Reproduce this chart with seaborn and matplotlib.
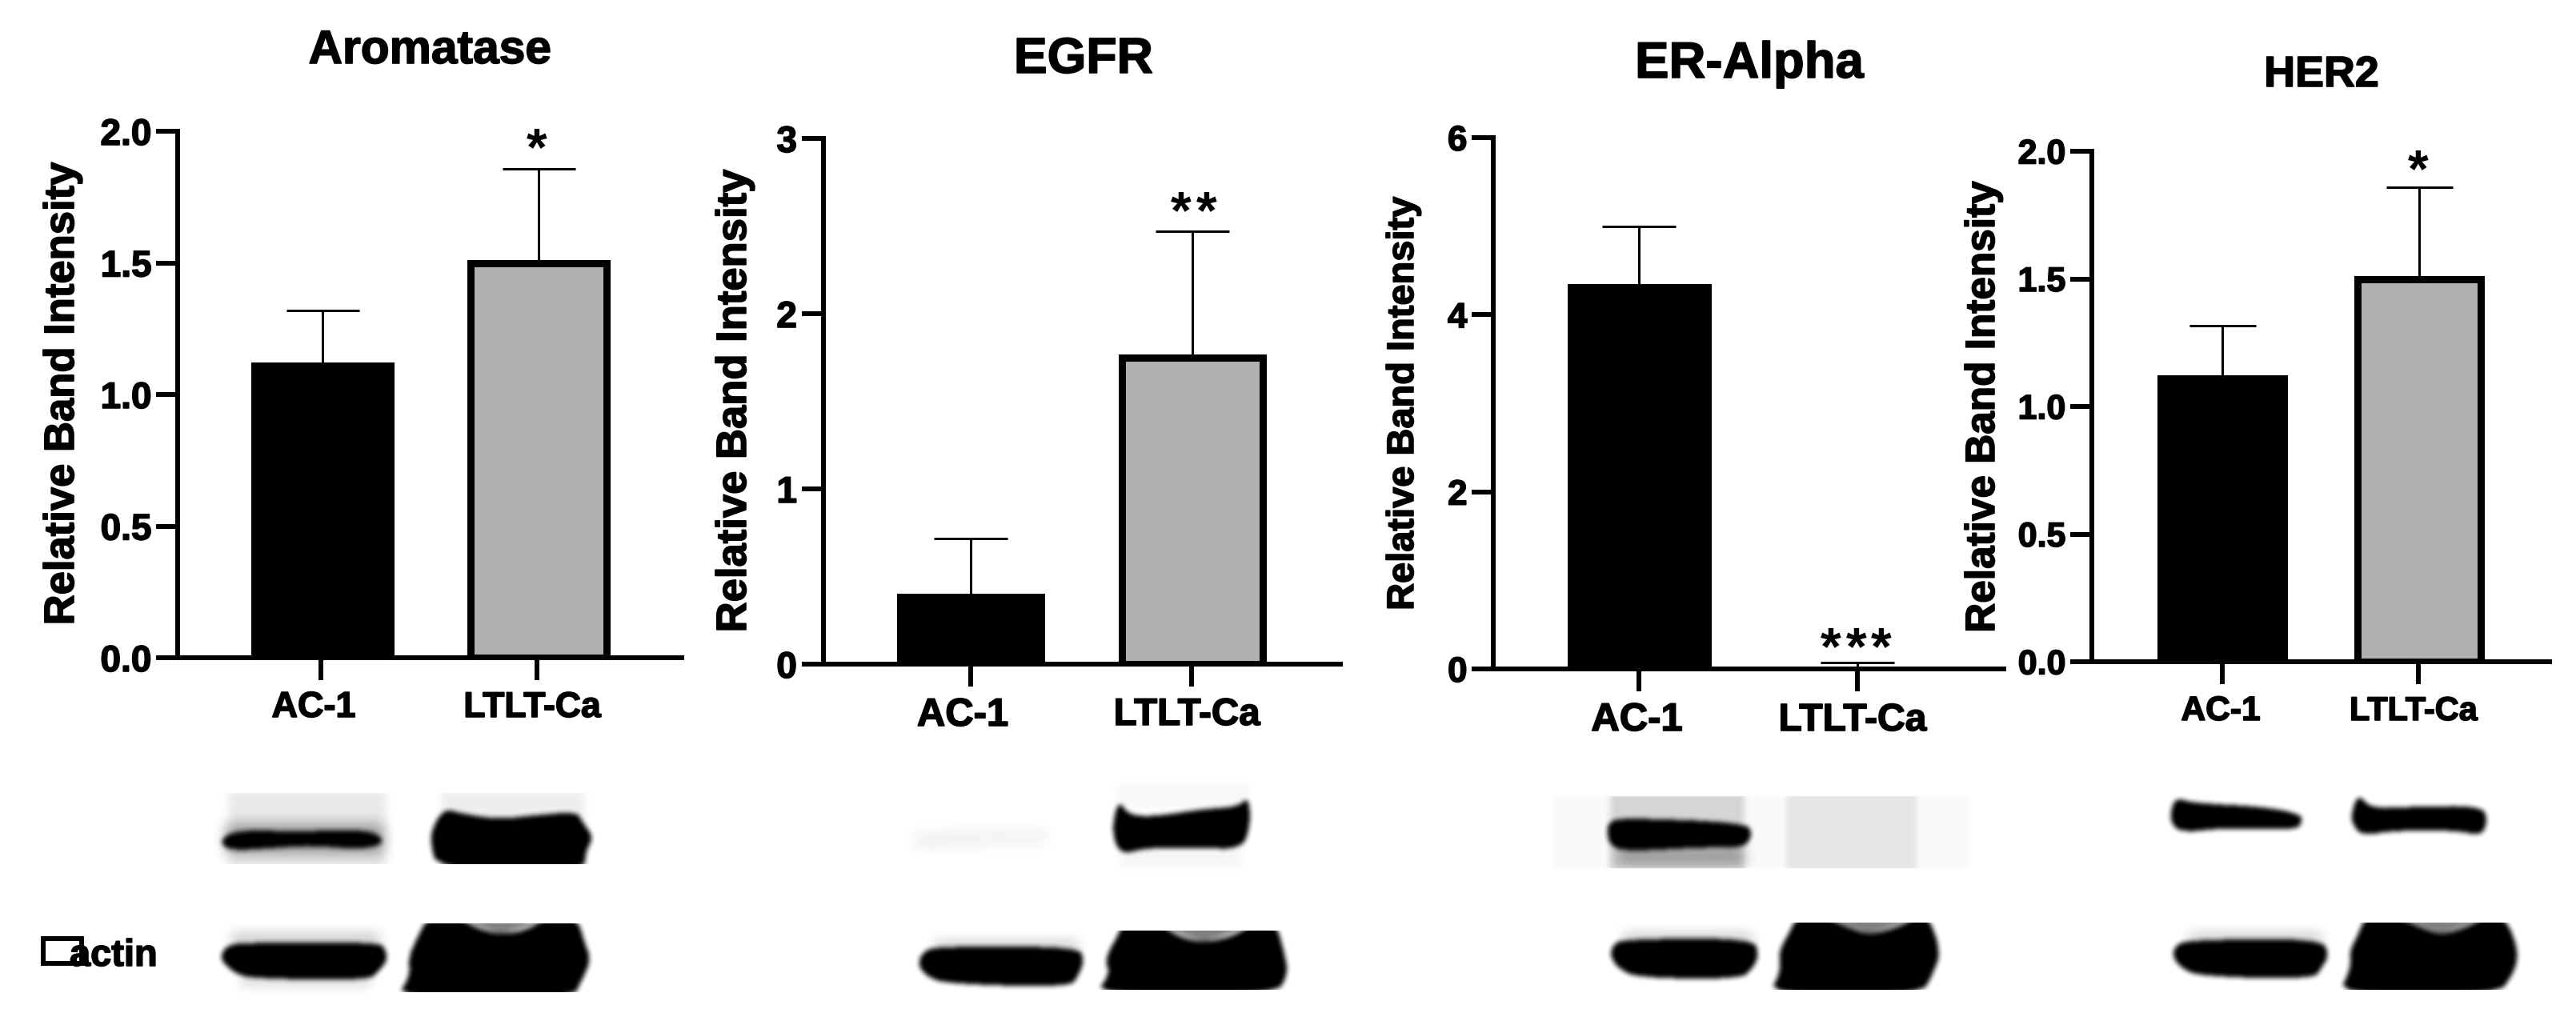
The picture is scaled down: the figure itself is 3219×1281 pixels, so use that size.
import numpy as np
import pandas as pd
import seaborn as sns
import matplotlib
matplotlib.use("Agg")
import matplotlib.pyplot as plt
import matplotlib.patheffects as pe
from matplotlib.path import Path
from matplotlib.patches import Rectangle
from matplotlib.transforms import ScaledTranslation

W, H, DPI = 3219, 1281, 100
PX = 72 / DPI

# ---------- data ----------
groups = ["AC-1", "LTLT-Ca"]
aromatase_mean = [1.11, 1.50]
aromatase_upper = [1.32, 1.857]
egfr_mean = [0.385, 1.75]
egfr_upper = [0.717, 2.47]
er_alpha_mean = [4.31, 0.01]
er_alpha_upper = [5.0, 0.07]
her2_mean = [1.11, 1.50]
her2_upper = [1.318, 1.859]
aromatase_ticks = ["0.0", "0.5", "1.0", "1.5", "2.0"]
egfr_ticks = ["0", "1", "2", "3"]
er_alpha_ticks = ["0", "2", "4", "6"]
her2_ticks = ["0.0", "0.5", "1.0", "1.5", "2.0"]
titles = ["Aromatase", "EGFR", "ER-Alpha", "HER2"]
ylabel_text = "Relative Band Intensity"
bar_colors = ["#000000", "#B0B0B0"]

# ---------- layout (pixels of the final image) ----------
panels = [
    dict(title=titles[0], mean=aromatase_mean, upper=aromatase_upper, ticks=aromatase_ticks,
         left=222, right=852, y0=822, ytop=164, t1=401, t2=671, b1=402.5, b2=672.5, barw=170, cap=91,
         tfs=58.7, tx=537, tb=79, yfs=52.6, ybx=92, ycy=492, tickfs=46,
         lab=[(392, 45), (665, 44.5)], labpad=14, star_x=[671], star_y=176),
    dict(title=titles[1], mean=egfr_mean, upper=egfr_upper, ticks=egfr_ticks,
         left=1028.5, right=1675, y0=830, ytop=173, t1=1213, t2=1489, b1=1212.5, b2=1490, barw=176, cap=93,
         tfs=62.6, tx=1354, tb=91, yfs=52.6, ybx=932, ycy=501, tickfs=46,
         lab=[(1203, 49), (1483, 47.5)], labpad=14, star_x=[1476, 1508], star_y=255),
    dict(title=titles[2], mean=er_alpha_mean, upper=er_alpha_upper, ticks=er_alpha_ticks,
         left=1866, right=2504, y0=836, ytop=172, t1=2048, t2=2321, b1=2048, b2=2321, barw=171, cap=93,
         tfs=63.5, tx=2186, tb=97, yfs=47, ybx=1766, ycy=504, tickfs=44,
         lab=[(2045.5, 49), (2315, 48)], labpad=14, star_x=[2288, 2320, 2351], star_y=800),
    dict(title=titles[3], mean=her2_mean, upper=her2_upper, ticks=her2_ticks,
         left=2614, right=3186, y0=827, ytop=189, t1=2777, t2=3022, b1=2776.5, b2=3023, barw=154, cap=83,
         tfs=53.8, tx=2901, tb=108, yfs=51.3, ybx=2492, ycy=509, tickfs=43,
         lab=[(2775, 42.5), (3016, 41.5)], labpad=14, star_x=[3022], star_y=203),
]

# ---------- western blot sketches: (group, polygon, darkness, blur px, clip y range) ----------
# polygons are in crop-view units, converted below
L, R = "L", "R"
blots = [
    # Aromatase, top row
    (L, [(272,170),(458,170),(458,455),(272,455)], .09, 6, (180,445)),
    (L, [(268,295),(455,295),(455,405),(268,405)], .35, 9, (180,445)),
    (L, [(262,360),(272,330),(300,318),(350,325),(400,318),(440,322),(455,350),(450,378),(420,388),(370,375),(320,385),(285,392),(268,385)], 1, 3, None),
    (L, [(525,170),(695,170),(695,300),(525,300)], .07, 6, (180,445)),
    (L, [(530,240),(545,255),(590,278),(640,262),(685,250),(692,290),(705,345),(695,400),(695,470),(520,470),(510,350),(518,280)], 1, 3, (180,445)),
    # Aromatase, actin
    (L, [(275,700),(450,700),(450,750),(275,750)], .2, 8, None),
    (L, [(285,860),(440,860),(440,895),(285,895)], .15, 7, None),
    (L, [(270,745),(290,735),(450,733),(458,760),(460,800),(450,840),(438,875),(300,868),(280,850),(265,810),(262,780)], 1, 3, None),
    (L, [(508,640),(545,640),(565,682),(595,705),(625,690),(650,640),(685,640),(695,740),(702,800),(690,880),(680,940),(470,940),(487,860),(485,790),(495,720)], 1, 3, (665,918)),
    (L, [(540,640),(655,640),(595,715)], .5, 5, (665,918)),
    # EGFR, top row
    (L, [(1085,330),(1245,320),(1245,360),(1085,385)], .07, 10, None),
    (L, [(1325,145),(1485,145),(1480,240),(1330,240)], .03, 6, None),
    (L, [(1330,390),(1475,390),(1475,450),(1330,450)], .05, 8, None),
    (L, [(1328,205),(1340,262),(1370,268),(1430,240),(1470,232),(1483,195),(1485,300),(1475,390),(1420,383),(1360,385),(1330,410),(1320,320)], 1, 3, None),
    # EGFR, actin
    (L, [(1110,730),(1280,730),(1280,770),(1110,770)], .2, 8, None),
    (L, [(1105,755),(1135,750),(1280,750),(1288,800),(1280,860),(1270,900),(1125,888),(1100,860),(1090,815),(1095,775)], 1, 3, None),
    (L, [(1335,660),(1375,660),(1400,715),(1430,735),(1465,712),(1490,660),(1515,660),(1525,770),(1530,850),(1515,930),(1300,930),(1318,850),(1312,800),(1325,720)], 1, 3, (690,910)),
    (L, [(1368,660),(1495,660),(1430,745)], .5, 5, (690,910)),
    # ER-Alpha, top row
    (R, [(290,192),(810,192),(810,460),(290,460)], .02, 2, None),
    (R, [(362,180),(530,180),(530,470),(362,470)], .15, 4, (192,460)),
    (R, [(582,180),(745,180),(745,470),(582,470)], .08, 3, (192,460)),
    (R, [(370,385),(530,385),(530,445),(370,445)], .3, 9, (192,460)),
    (R, [(360,290),(375,272),(530,290),(540,330),(530,385),(480,382),(380,398),(362,375),(358,330)], 1, 3, None),
    # HER2, top row
    (R, [(1062,250),(1068,198),(1090,218),(1180,232),(1225,260),(1226,290),(1218,318),(1130,310),(1075,328),(1062,290)], 1, 3, None),
    (R, [(1288,250),(1296,185),(1312,238),(1360,232),(1450,228),(1458,280),(1450,340),(1420,320),(1340,320),(1300,340),(1288,290)], 1, 3, None),
    # ER-Alpha, actin
    (R, [(378,700),(540,700),(540,745),(378,745)], .2, 8, None),
    (R, [(365,745),(378,722),(540,718),(548,780),(540,830),(525,870),(395,865),(372,830),(362,785)], 1, 3, None),
    (R, [(595,640),(630,640),(660,680),(685,705),(720,680),(745,640),(760,640),(775,770),(765,850),(750,930),(560,930),(575,840),(572,770),(585,700)], 1, 3, (660,910)),
    (R, [(622,640),(750,640),(685,715)], .5, 5, (660,910)),
    # HER2, actin
    (R, [(1085,700),(1250,700),(1250,745),(1085,745)], .2, 8, None),
    (R, [(1068,745),(1085,725),(1250,720),(1260,780),(1250,830),(1240,870),(1100,860),(1075,830),(1064,785)], 1, 3, None),
    (R, [(1305,640),(1345,640),(1375,680),(1400,705),(1430,680),(1455,640),(1480,640),(1497,770),(1490,850),(1470,930),(1270,930),(1287,830),(1285,770),(1295,710)], 1, 3, (660,910)),
    (R, [(1338,640),(1460,640),(1400,715)], .5, 5, (660,910)),
]


def to_px(group, x, y):
    if group == L:
        return x * 1650 / 1568, 930 + y * 0.3375
    return 1650 + x * 1569 / 1568, 930 + y * 0.3375


def chaikin(pts, n=2):
    p = np.asarray(pts, float)
    if len(p) <= 4:
        return p
    for _ in range(n):
        q = np.roll(p, -1, axis=0)
        p = np.column_stack([0.75 * p + 0.25 * q, 0.25 * p + 0.75 * q]).reshape(-1, 2)
    return p


def box(a, n, axis):
    k = np.ones(n) / n
    return np.apply_along_axis(lambda v: np.convolve(v, k, mode="same"), axis, a)


def render_blots():
    img = np.ones((H, W))
    for group, poly, dark, blur, clip in blots:
        pts = np.array([to_px(group, x, y) for x, y in poly])
        pts = chaikin(pts)
        pad = 3 * blur + 3
        x0 = max(int(pts[:, 0].min()) - pad, 0)
        x1 = min(int(pts[:, 0].max()) + pad, W)
        y0 = max(int(pts[:, 1].min()) - pad, 0)
        y1 = min(int(pts[:, 1].max()) + pad, H)
        xx, yy = np.meshgrid(np.arange(x0, x1) + .5, np.arange(y0, y1) + .5)
        m = Path(pts).contains_points(np.column_stack([xx.ravel(), yy.ravel()])).reshape(xx.shape).astype(float)
        n = 2 * blur + 1
        for _ in range(2):
            m = box(box(m, n, 0), n, 1)
        if clip is not None:
            c0 = to_px(group, 0, clip[0])[1]
            c1 = to_px(group, 0, clip[1])[1]
            m[(yy < c0) | (yy > c1)] = 0
        img[y0:y1, x0:x1] *= 1 - dark * m
    return img


# ---------- figure ----------
sns.set_theme(style="white", rc={"axes.facecolor": "none"})
plt.rcParams["font.family"] = ["Liberation Sans", "DejaVu Sans"]
fig = plt.figure(figsize=(W / DPI, H / DPI), dpi=DPI, facecolor="white")

bg = fig.add_axes([0, 0, 1, 1], zorder=0)
bg.imshow(render_blots(), cmap="gray", vmin=0, vmax=1, extent=(0, W, H, 0), aspect="auto", interpolation="nearest")
bg.set_xlim(0, W)
bg.set_ylim(H, 0)
bg.axis("off")

LW = 6 * PX
HEAVY = [pe.withStroke(linewidth=1.6 * PX, foreground="black")]
for p in panels:
    ax = fig.add_axes([p["left"] / W, 1 - p["y0"] / H, (p["right"] - p["left"]) / W, (p["y0"] - p["ytop"]) / H], zorder=1)
    df = pd.DataFrame({"group": groups, "value": p["mean"]})
    span = p["t2"] - p["t1"]
    sns.barplot(data=df, x="group", y="value", hue="group", order=groups, hue_order=groups,
                palette=bar_colors, width=p["barw"] / span, edgecolor="black",
                linewidth=9 * PX, errorbar=None, legend=False, saturation=1, ax=ax, zorder=2)
    # shift bars to their measured centres
    for patch, bc, tc, m in zip(ax.patches, (p["b1"], p["b2"]), (p["t1"], p["t2"]), p["mean"]):
        patch.set_x(patch.get_x() + (bc - tc) / span)
        if m < 0.05:  # a bar this short is only an outline on the baseline
            patch.set_linewidth(5 * PX)
    means = np.array(p["mean"])
    ups = np.array(p["upper"]) - means
    ax.errorbar([(p["b1"] - p["t1"]) / span, 1 + (p["b2"] - p["t2"]) / span], means,
                yerr=[np.zeros(2), ups], fmt="none", ecolor="black", elinewidth=3 * PX,
                capsize=p["cap"] / 2 * PX, capthick=3 * PX, zorder=1)

    ticks = [float(t) for t in p["ticks"]]
    ax.set_ylim(0, ticks[-1])
    ax.set_xlim((p["left"] - p["t1"]) / span, (p["right"] - p["t1"]) / span)
    ax.set_yticks(ticks, p["ticks"])
    ax.set_xticks([0, 1], groups)
    ax.set_xlabel("")
    ax.set_ylabel("")
    for s in ("top", "right"):
        ax.spines[s].set_visible(False)
    for s in ("left", "bottom"):
        ax.spines[s].set_linewidth(LW)
        ax.spines[s].set_color("black")
    ax.tick_params(axis="y", length=27 * PX, width=LW, color="black", left=True, pad=4)
    ax.tick_params(axis="x", length=28 * PX, width=LW, color="black", bottom=True, pad=p["labpad"] * PX)
    for lab in ax.get_yticklabels():
        lab.set_fontsize(p["tickfs"] * PX)
        lab.set_fontweight("bold")
        lab.set_color("black")
        lab.set_path_effects(HEAVY)
    for lab, (cx, fs), tc in zip(ax.get_xticklabels(), p["lab"], (p["t1"], p["t2"])):
        lab.set_fontsize(fs * PX)
        lab.set_fontweight("bold")
        lab.set_color("black")
        lab.set_path_effects(HEAVY)
        lab.set_transform(lab.get_transform() + ScaledTranslation((cx - tc) / DPI, 0, fig.dpi_scale_trans))

    bg.text(p["tx"], p["tb"], p["title"], fontsize=p["tfs"] * PX, fontweight="bold",
            ha="center", va="baseline", color="black", path_effects=HEAVY)
    bg.text(p["ybx"], p["ycy"], ylabel_text, fontsize=p["yfs"] * PX, fontweight="bold",
            rotation=90, rotation_mode="anchor", ha="center", va="baseline", color="black", path_effects=HEAVY)
    for sx in p["star_x"]:
        bg.text(sx, p["star_y"] + 0.46 * 66, "*", fontsize=66 * PX, fontweight="bold",
                ha="center", va="baseline", color="black")

# the damaged "beta" glyph box and the label in the lower left
bg.add_patch(Rectangle((54, 1173), 48, 31, fill=False, edgecolor="black", linewidth=6 * PX))
bg.text(87, 1207, "actin", fontsize=47 * PX, fontweight="bold", ha="left", va="baseline", color="black", path_effects=HEAVY)

fig.savefig("out.png", dpi=DPI, facecolor="white")
